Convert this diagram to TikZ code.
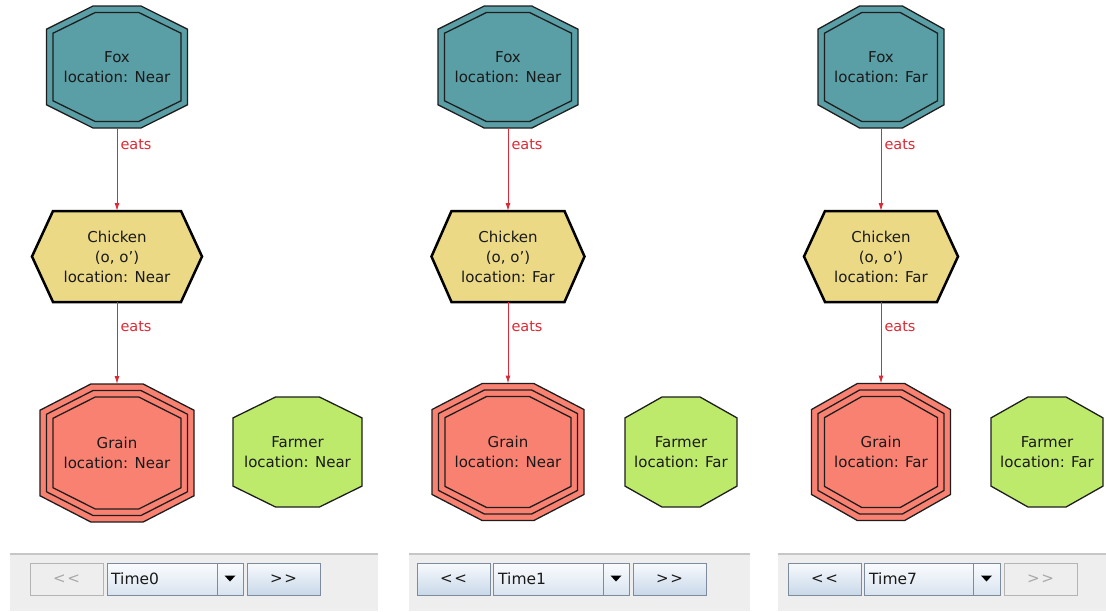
\documentclass[tikz,border=0pt]{standalone}
\usepackage{fontspec}
\setmainfont{DejaVu Sans}
\usetikzlibrary{arrows.meta}
\definecolor{foxc}{HTML}{5A9EA6}
\definecolor{chkc}{HTML}{EBD985}
\definecolor{grnc}{HTML}{F98172}
\definecolor{frmc}{HTML}{BEEA6C}
\definecolor{edgec}{HTML}{DC2A36}
\definecolor{outl}{HTML}{1E1E1E}
\definecolor{barbg}{HTML}{EEEEEE}
\definecolor{barline}{HTML}{C6C6C6}
\definecolor{btnborder}{HTML}{7D8C9C}
\definecolor{btntop}{HTML}{F7FAFD}
\definecolor{btnbot}{HTML}{C9D8E9}
\definecolor{disborder}{HTML}{B4B4B4}
\definecolor{distext}{HTML}{A8A8A8}
\definecolor{txtc}{HTML}{1A1A1A}
% octagon path: style, cx, cy, half width, half height
\newcommand\octshape[5]{%
  \path[#1] ({#2-0.34*(#4)},{#3-(#5)}) -- ({#2+0.34*(#4)},{#3-(#5)})
    -- ({#2+(#4)},{#3-0.62*(#5)}) -- ({#2+(#4)},{#3+0.62*(#5)})
    -- ({#2+0.34*(#4)},{#3+(#5)}) -- ({#2-0.34*(#4)},{#3+(#5)})
    -- ({#2-(#4)},{#3+0.62*(#5)}) -- ({#2-(#4)},{#3-0.62*(#5)}) -- cycle;}
% octagon node: name, cx, cy, w, h, peripheries, fill, text
\newcommand\octnode[8]{%
  \octshape{draw=outl, line width=1.3pt, fill=#7}{#2}{#3}{#4}{#5}
  \ifnum#6>1 \octshape{draw=outl, line width=1.3pt}{#2}{#3}{#4-6.5}{#5-6.5}\fi
  \ifnum#6>2 \octshape{draw=outl, line width=1.3pt}{#2}{#3}{#4-13}{#5-13}\fi
  \node[lbl, minimum width={(#4)*2pt}, minimum height={(#5)*2pt}] (#1) at (#2,#3) {#8};}
% hexagon node: name, cx, cy, w, h, inset, text
\newcommand\hexnode[7]{%
  \path[draw=black, line width=2.5pt, line join=miter, fill=chkc]
    ({#2-(#4)+(#6)},{#3-(#5)}) -- ({#2+(#4)-(#6)},{#3-(#5)}) -- ({#2+(#4)},{#3})
    -- ({#2+(#4)-(#6)},{#3+(#5)}) -- ({#2-(#4)+(#6)},{#3+(#5)}) -- ({#2-(#4)},{#3}) -- cycle;
  \node[lbl, minimum width={(#4)*2pt}, minimum height={(#5)*2pt}] (#1) at (#2,#3) {#7};}
\begin{document}
\begin{tikzpicture}[x=1pt,y=-1pt,
  lbl/.style={inner sep=0pt, outer sep=0pt, align=center, text=txtc,
    font=\fontsize{15}{20}\selectfont},
  edge/.style={draw=edgec, line width=1pt, -{Latex[length=8pt,width=5pt]}},
  elabel/.style={text=edgec, font=\fontsize{14.5}{17}\selectfont, anchor=west, inner sep=0pt, xshift=3pt},
  btnon/.style={draw=btnborder, line width=0.8pt, top color=btntop, bottom color=btnbot,
    minimum width=73pt, minimum height=32pt, inner sep=0pt, text=txtc,
    font=\fontsize{15}{18}\selectfont},
  btnoff/.style={draw=disborder, line width=0.8pt, fill=barbg,
    minimum width=73pt, minimum height=32pt, inner sep=0pt, text=distext,
    font=\fontsize{15}{18}\selectfont},
  combo/.style={draw=btnborder, line width=0.8pt, top color=btntop!60!white, bottom color=btnbot!70!white,
    minimum width=136pt, minimum height=32pt, inner sep=0pt},
  combotxt/.style={anchor=west, inner sep=0pt, text=txtc, font=\fontsize{15.5}{18}\selectfont},
  bar/.style={fill=barbg, draw=none}
]
\useasboundingbox (0,0) rectangle (1106,611);
\fill[white] (0,0) rectangle (1106,611);

% ---------------- Panel 1 ----------------
\octnode{fox1}{117}{67}{70.5}{61}{2}{foxc}{Fox\\location: Near}
\hexnode{chk1}{117}{256.5}{85}{45.5}{21}{Chicken\\(o, o')\\location: Near}
\octnode{grn1}{117}{453}{77}{69}{3}{grnc}{Grain\\location: Near}
\octnode{frm1}{297.5}{452}{64.5}{55}{1}{frmc}{Farmer\\location: Near}
\draw[edge] (fox1.south) -- (chk1.north) node[elabel, pos=0.2] (e1a) {eats};
\draw[edge] (chk1.south) -- (grn1.north) node[elabel, pos=0.3] (e1b) {eats};

% ---------------- Panel 2 ----------------
\octnode{fox2}{508}{67}{70}{61}{2}{foxc}{Fox\\location: Near}
\hexnode{chk2}{508}{256.5}{76.5}{45.5}{20}{Chicken\\(o, o')\\location: Far}
\octnode{grn2}{508}{452}{76}{68.5}{3}{grnc}{Grain\\location: Near}
\octnode{frm2}{681}{452}{56}{55}{1}{frmc}{Farmer\\location: Far}
\draw[edge] (fox2.south) -- (chk2.north) node[elabel, pos=0.2] (e2a) {eats};
\draw[edge] (chk2.south) -- (grn2.north) node[elabel, pos=0.3] (e2b) {eats};

% ---------------- Panel 3 ----------------
\octnode{fox3}{881}{67}{63}{61}{2}{foxc}{Fox\\location: Far}
\hexnode{chk3}{881}{256.5}{77}{45.5}{21}{Chicken\\(o, o')\\location: Far}
\octnode{grn3}{881}{452}{69.5}{68.5}{3}{grnc}{Grain\\location: Far}
\octnode{frm3}{1047}{452}{56}{55}{1}{frmc}{Farmer\\location: Far}
\draw[edge] (fox3.south) -- (chk3.north) node[elabel, pos=0.2] (e3a) {eats};
\draw[edge] (chk3.south) -- (grn3.north) node[elabel, pos=0.3] (e3b) {eats};

% ---------------- Bottom bars ----------------
\foreach \xa/\xb in {10/378, 409/750, 778/1106}{
  \path[bar] (\xa,553) rectangle (\xb,611);
  \draw[barline, line width=1.6pt] (\xa,553.8) -- (\xb,553.8);
}
% panel 1 controls
\node[btnoff] (prev1) at (66.5,579) {<\kern1.5pt<};
\node[combo] (cb1) at (175,579) {};
\draw[btnborder, line width=0.8pt] (217,563) -- (217,595);
\fill[black] (224.5,575.5) -- (235.5,575.5) -- (230,581.5) -- cycle;
\node[combotxt] (t1) at (111,578.5) {Time0};
\node[btnon] (next1) at (283.5,579) {>\kern1.5pt>};

% panel 2 controls
\node[btnon] (prev2) at (453.5,579) {<\kern1.5pt<};
\node[combo] (cb2) at (561.5,579) {};
\draw[btnborder, line width=0.8pt] (603,563) -- (603,595);
\fill[black] (610.5,575.5) -- (621.5,575.5) -- (616,581.5) -- cycle;
\node[combotxt] (t2) at (498,578.5) {Time1};
\node[btnon] (next2) at (669.5,579) {>\kern1.5pt>};

% panel 3 controls
\node[btnon] (prev3) at (824.5,579) {<\kern1.5pt<};
\node[combo] (cb3) at (932.5,579) {};
\draw[btnborder, line width=0.8pt] (973,563) -- (973,595);
\fill[black] (981,575.5) -- (992,575.5) -- (986.5,581.5) -- cycle;
\node[combotxt] (t3) at (869,578.5) {Time7};
\node[btnoff] (next3) at (1040.5,579) {>\kern1.5pt>};
\end{tikzpicture}
\end{document}
